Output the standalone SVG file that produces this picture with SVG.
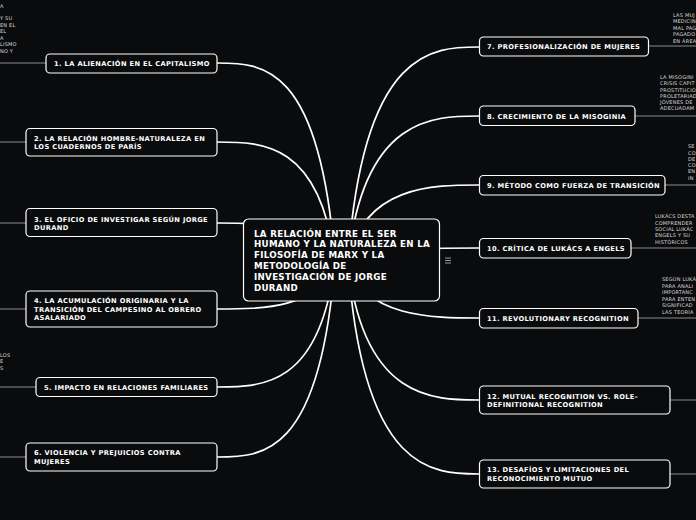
<svg xmlns="http://www.w3.org/2000/svg" width="696" height="520" viewBox="0 0 696 520">
<style>
.bg{fill:#0a0b0d}
.node{fill:#0a0b0d;stroke:#ffffff;stroke-width:1.2}
.t{font-family:"DejaVu Sans",Verdana,sans-serif;font-weight:bold;font-size:6.7px;letter-spacing:0.35px;fill:#ffffff}
.ct{font-family:"DejaVu Sans",Verdana,sans-serif;font-weight:bold;font-size:8.7px;letter-spacing:0.3px;fill:#ffffff}
.f{font-family:"DejaVu Sans",Verdana,sans-serif;font-size:5px;letter-spacing:0.2px;fill:#d8d8d8}
.c{fill:none;stroke:#ffffff;stroke-width:1.7}
.s{fill:none;stroke:#8a8a8a;stroke-width:1}
</style>
<rect class="bg" x="0" y="0" width="696" height="520"/>
<g id="connectors">
<path class="c" d="M335,262 C320,63 262,63 217,63"/>
<path class="c" d="M335,262 C320,142 262,142 217,142"/>
<path class="c" d="M335,262 C320,223 262,223 217,223"/>
<path class="c" d="M335,262 C320,309 262,309 217,309"/>
<path class="c" d="M335,262 C320,387 262,387 217,387"/>
<path class="c" d="M335,262 C320,457 262,457 217,457"/>
<path class="c" d="M348,262 C363,47 434,47 479,47"/>
<path class="c" d="M348,262 C363,116 434,116 479,116"/>
<path class="c" d="M348,262 C363,185 434,185 479,185"/>
<path class="c" d="M348,262 C363,248 434,248 479,248"/>
<path class="c" d="M348,262 C363,318 434,318 479,318"/>
<path class="c" d="M348,262 C363,400 434,400 479,400"/>
<path class="c" d="M348,262 C363,474 434,474 479,474"/>
<path class="s" d="M46,63 H0"/>
<path class="s" d="M26,142 H0"/>
<path class="s" d="M26,223 H0"/>
<path class="s" d="M26,309 H0"/>
<path class="s" d="M36,387 H0"/>
<path class="s" d="M26,457 H0"/>
<path class="s" d="M648,46 H696"/>
<path class="s" d="M635,116 H696"/>
<path class="s" d="M665,185 H696"/>
<path class="s" d="M631,248 H696"/>
<path class="s" d="M638,318 H696"/>
<path class="s" d="M670,400 H696"/>
<path class="s" d="M670,474 H696"/>
</g>
<g id="center">
<rect class="node" x="243.5" y="219" width="196" height="82" rx="5" stroke-width="1.5"/>
<text class="ct" x="254" y="236.5">LA RELACIÓN ENTRE EL SER</text>
<text class="ct" x="254" y="247.3">HUMANO Y LA NATURALEZA EN LA</text>
<text class="ct" x="254" y="258.1">FILOSOFÍA DE MARX Y LA</text>
<text class="ct" x="254" y="268.9">METODOLOGÍA DE</text>
<text class="ct" x="254" y="279.7">INVESTIGACIÓN DE JORGE</text>
<text class="ct" x="254" y="290.5">DURAND</text>
<path d="M445,258 H451 M445,260.5 H451 M445,263 H451" stroke="#bbbbbb" stroke-width="0.8"/>
</g>
<g id="n1">
<rect class="node" x="46" y="54" width="171" height="19" rx="4"/>
<text class="t" x="54" y="66">1. LA ALIENACIÓN EN EL CAPITALISMO</text>
</g>
<g id="n1note">
<text class="f" x="0" y="7.5">A</text>
<text class="f" x="0" y="20">Y SU</text>
<text class="f" x="0" y="26.5">EN EL</text>
<text class="f" x="0" y="33">EL</text>
<text class="f" x="0" y="39.5">A</text>
<text class="f" x="0" y="46">LISMO</text>
<text class="f" x="0" y="52.5">NO Y</text>
</g>
<g id="n2">
<rect class="node" x="26" y="128.5" width="191" height="27.5" rx="4"/>
<text class="t" x="34" y="140.5">2. LA RELACIÓN HOMBRE-NATURALEZA EN</text>
<text class="t" x="34" y="149">LOS CUADERNOS DE PARÍS</text>
</g>
<g id="n3">
<rect class="node" x="26" y="208.5" width="191" height="28" rx="4"/>
<text class="t" x="34" y="221.5">3. EL OFICIO DE INVESTIGAR SEGÚN JORGE</text>
<text class="t" x="34" y="230">DURAND</text>
</g>
<g id="n4">
<rect class="node" x="26" y="291" width="191" height="36" rx="4"/>
<text class="t" x="34" y="303">4. LA ACUMULACIÓN ORIGINARIA Y LA</text>
<text class="t" x="34" y="311.5">TRANSICIÓN DEL CAMPESINO AL OBRERO</text>
<text class="t" x="34" y="320">ASALARIADO</text>
</g>
<g id="n5">
<rect class="node" x="36" y="377.5" width="181" height="19" rx="4"/>
<text class="t" x="44" y="389.5">5. IMPACTO EN RELACIONES FAMILIARES</text>
</g>
<g id="n5note">
<text class="f" x="0" y="357">LOS</text>
<text class="f" x="0" y="363">E</text>
<text class="f" x="0" y="369.5">S</text>
</g>
<g id="n6">
<rect class="node" x="26" y="443" width="191" height="28" rx="4"/>
<text class="t" x="34" y="455">6. VIOLENCIA Y PREJUICIOS CONTRA</text>
<text class="t" x="34" y="463.5">MUJERES</text>
</g>
<g id="n7">
<rect class="node" x="479.5" y="37" width="169" height="19" rx="4"/>
<text class="t" x="487" y="49">7. PROFESIONALIZACIÓN DE MUJERES</text>
</g>
<g id="n7note">
<text class="f" x="673" y="16.5">LAS MUJ</text>
<text class="f" x="673" y="23">MEDICIN</text>
<text class="f" x="673" y="29.5">MAL PAG</text>
<text class="f" x="673" y="36">PAGADO</text>
<text class="f" x="673" y="42.5">EN ÁREA</text>
</g>
<g id="n8">
<rect class="node" x="479.5" y="106" width="155.5" height="19.5" rx="4"/>
<text class="t" x="487" y="118.5">8. CRECIMIENTO DE LA MISOGINIA</text>
</g>
<g id="n8note">
<text class="f" x="660" y="78.5">LA MISOGINI</text>
<text class="f" x="660" y="85">CRISIS CAPIT</text>
<text class="f" x="660" y="91.5">PROSTITUCIÓ</text>
<text class="f" x="660" y="97.5">PROLETARIAD</text>
<text class="f" x="660" y="104">JÓVENES DE</text>
<text class="f" x="660" y="110">ADECUADAM</text>
</g>
<g id="n9">
<rect class="node" x="479.5" y="175.5" width="185.5" height="19.5" rx="4"/>
<text class="t" x="487" y="188">9. MÉTODO COMO FUERZA DE TRANSICIÓN</text>
</g>
<g id="n9note">
<text class="f" x="688" y="148">SE</text>
<text class="f" x="688" y="154.5">CO</text>
<text class="f" x="688" y="160.5">DE</text>
<text class="f" x="688" y="167">CO</text>
<text class="f" x="688" y="173">EN</text>
<text class="f" x="688" y="179.5">IN</text>
</g>
<g id="n10">
<rect class="node" x="479.5" y="238.5" width="151.5" height="19.5" rx="4"/>
<text class="t" x="487" y="251">10. CRÍTICA DE LUKÁCS A ENGELS</text>
</g>
<g id="n10note">
<text class="f" x="655" y="218">LUKÁCS DESTA</text>
<text class="f" x="655" y="224.5">COMPRENDER</text>
<text class="f" x="655" y="230.5">SOCIAL LUKÁC</text>
<text class="f" x="655" y="237">ENGELS Y SU</text>
<text class="f" x="655" y="243.5">HISTÓRICOS</text>
</g>
<g id="n11">
<rect class="node" x="479.5" y="308.5" width="158.5" height="19.5" rx="4"/>
<text class="t" x="487" y="321">11. REVOLUTIONARY RECOGNITION</text>
</g>
<g id="n11note">
<text class="f" x="662" y="281">SEGÚN LUKÁ</text>
<text class="f" x="662" y="287.5">PARA ANALI</text>
<text class="f" x="662" y="294">IMPORTANC</text>
<text class="f" x="662" y="300.5">PARA ENTEN</text>
<text class="f" x="662" y="307">SIGNIFICAD</text>
<text class="f" x="662" y="313.5">LAS TEORÍA</text>
</g>
<g id="n12">
<rect class="node" x="479.5" y="386" width="190.5" height="28" rx="4"/>
<text class="t" x="487" y="398.5">12. MUTUAL RECOGNITION VS. ROLE-</text>
<text class="t" x="487" y="407">DEFINITIONAL RECOGNITION</text>
</g>
<g id="n13">
<rect class="node" x="479.5" y="460" width="190.5" height="28" rx="4"/>
<text class="t" x="487" y="472">13. DESAFÍOS Y LIMITACIONES DEL</text>
<text class="t" x="487" y="480.5">RECONOCIMIENTO MUTUO</text>
</g>
</svg>
